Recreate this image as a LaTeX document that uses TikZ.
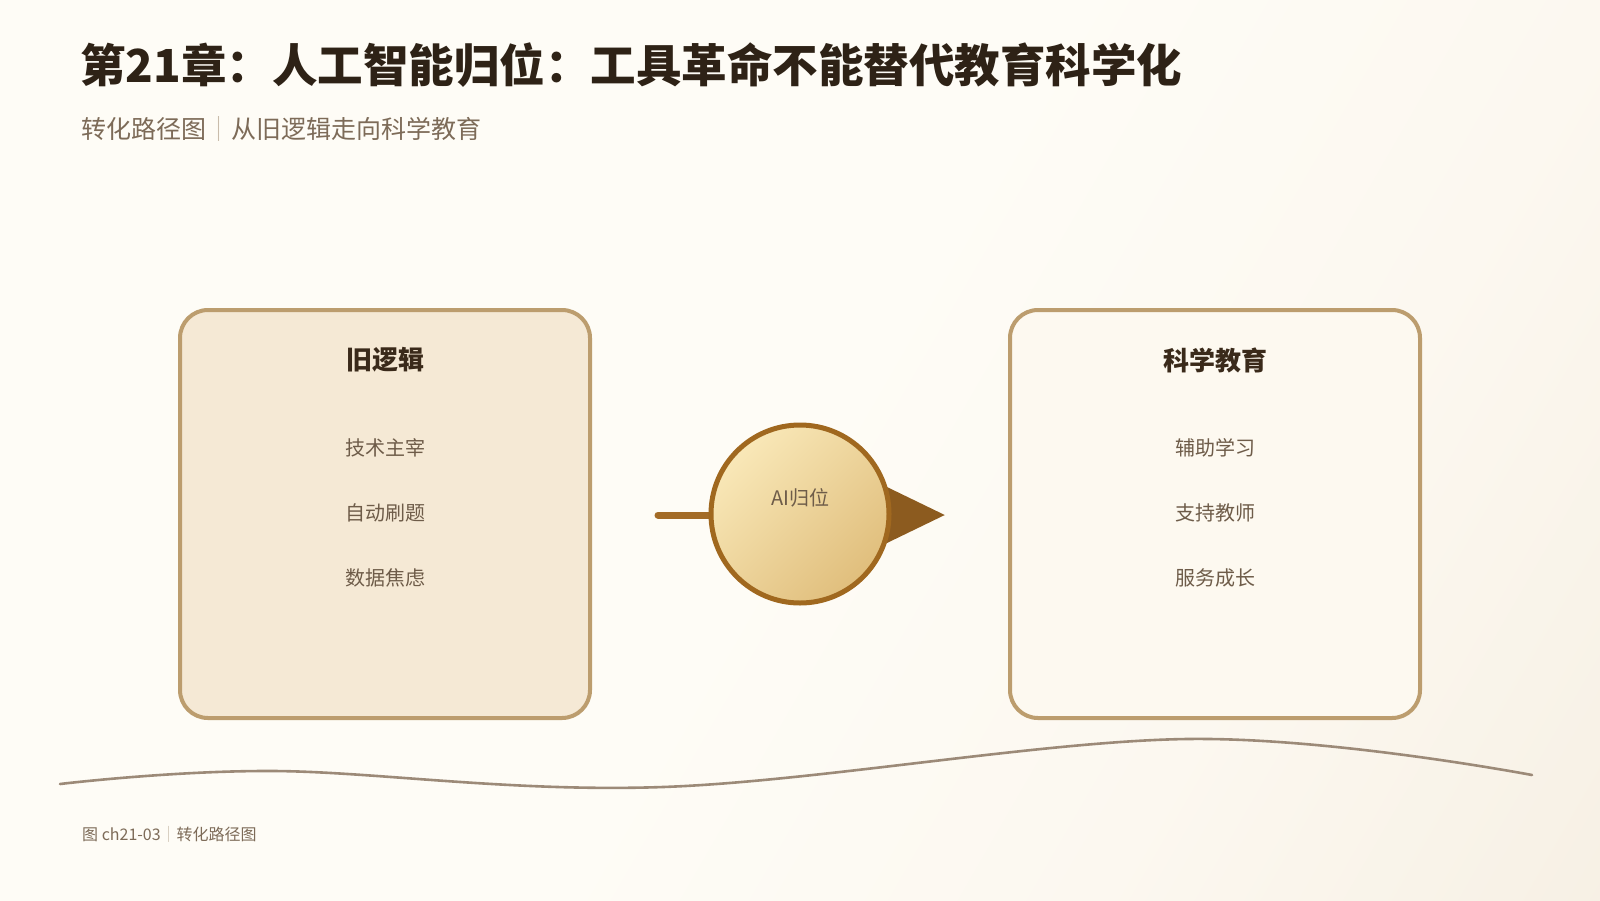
\documentclass[tikz,border=0pt]{standalone}
\usepackage{fontspec}
\setmainfont{Noto Sans CJK SC}
\usetikzlibrary{arrows.meta,shapes.geometric}
\definecolor{bgA}{HTML}{FEFCF6}
\definecolor{bgM}{HTML}{FCF8F0}
\definecolor{bgB}{HTML}{F2E9DA}
\definecolor{titlec}{HTML}{2E2216}
\definecolor{subc}{HTML}{7D6B58}
\definecolor{sepc}{HTML}{C9BCAB}
\definecolor{boxtitlec}{HTML}{3A2A1A}
\definecolor{itemc}{HTML}{6E5C49}
\definecolor{borderc}{HTML}{BC9D6E}
\definecolor{leftfill}{HTML}{F5E9D5}
\definecolor{rightfill}{HTML}{FDF9F0}
\definecolor{circborder}{HTML}{A0681F}
\definecolor{circA}{HTML}{F9E8B8}
\definecolor{circB}{HTML}{E0BE7C}
\definecolor{linec}{HTML}{A36B26}
\definecolor{tipc}{HTML}{8C5B1F}
\definecolor{wavec}{HTML}{9C8A78}
\pgfdeclarehorizontalshading{bgshade}{100bp}{color(0bp)=(bgA); color(50bp)=(bgA); color(68bp)=(bgM); color(100bp)=(bgB)}
\tikzset{
  panel/.style={draw=borderc, line width=4pt, rounded corners=28pt,
    minimum width=410pt, minimum height=408pt, inner sep=0pt},
  paneltitle/.style={font=\fontsize{26}{30}\selectfont\bfseries, text=boxtitlec, inner sep=0pt},
  item/.style={font=\fontsize{20}{24}\selectfont, text=itemc, inner sep=0pt},
  conn/.style={draw=linec, line width=7pt, line cap=round,
    -{Triangle[length=60pt,width=56pt,color=tipc]}},
  hub/.style={circle, draw=circborder, line width=5pt, minimum size=178pt, inner sep=0pt,
    top color=circA, bottom color=circB, shading angle=45},
  wave/.style={draw=wavec, line width=2.6pt, line cap=round},
}
\begin{document}
\begin{tikzpicture}[x=1pt, y=-1pt]
\useasboundingbox (0,0) rectangle (1600,900);
\shade[shading=bgshade, shading angle=-30] (0,0) rectangle (1600,900);
% title
\node[anchor=west, inner sep=0pt, text=titlec, font=\fontsize{45.5}{50}\selectfont\bfseries] (title) at (80,65) {第21章：人工智能归位：工具革命不能替代教育科学化};
\node[anchor=west, inner sep=0pt, text=subc, font=\fontsize{25}{30}\selectfont] (subtitle) at (81,129) {转化路径图{\color{sepc}｜}从旧逻辑走向科学教育};
% panels
\node[panel, fill=leftfill] (old) at (385,514) {};
\node[panel, fill=rightfill] (new) at (1215,514) {};
\node[paneltitle] (oldt) at (385,360) {旧逻辑};
\node[item] (o1) at (385,448) {技术主宰};
\node[item] (o2) at (385,513) {自动刷题};
\node[item] (o3) at (385,578) {数据焦虑};
\node[paneltitle] (newt) at (1215,360) {科学教育};
\node[item] (n1) at (1215,448) {辅助学习};
\node[item] (n2) at (1215,513) {支持教师};
\node[item] (n3) at (1215,578) {服务成长};
% connector and hub
\coordinate (cs) at (658,515);
\coordinate (ce) at (945,515);
\draw[conn] (cs) -- (ce);
\node[hub] (ai) at (800,514) {};
\node[item] (ait) at (800,498) {AI归位};
% wave
\draw[wave] plot[smooth, tension=0.6] coordinates {(60,784) (273,771) (663,787) (1187,739) (1532,775)};
% footer
\node[anchor=west, inner sep=0pt, text=subc, font=\fontsize{16}{20}\selectfont] (footer) at (82,834) {图 ch21-03{\color{sepc}｜}转化路径图};
\end{tikzpicture}
\end{document}
